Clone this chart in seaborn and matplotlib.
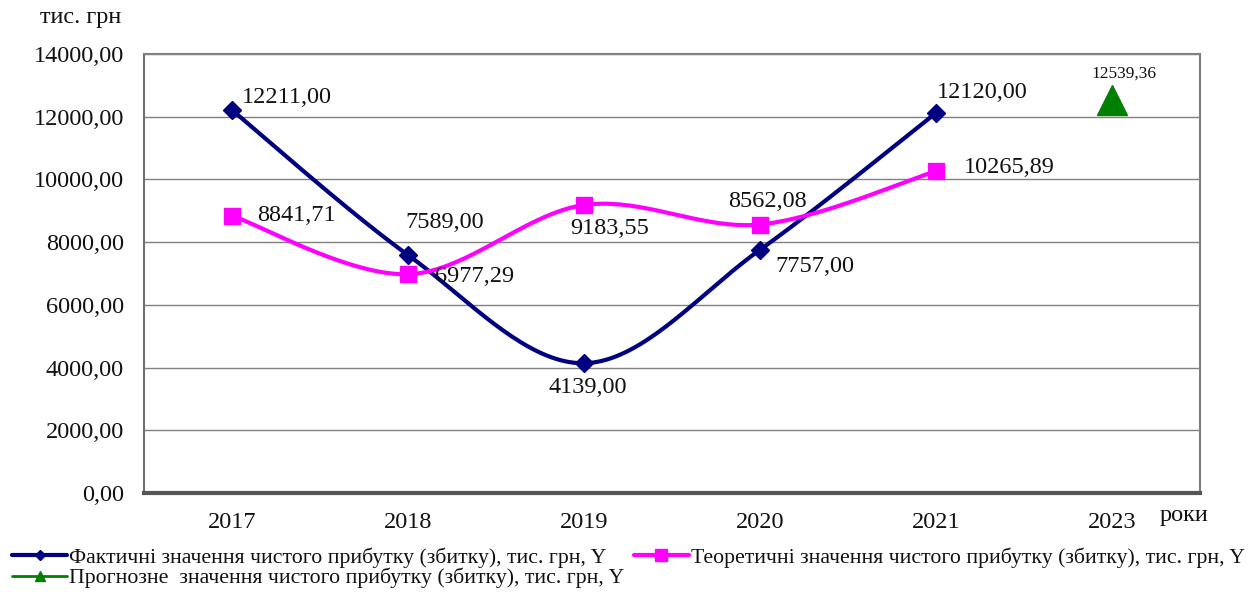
import numpy as np
import matplotlib
matplotlib.use("Agg")
import matplotlib.pyplot as plt
from matplotlib.lines import Line2D
import seaborn as sns

# --- data ---
years = ["2017", "2018", "2019", "2020", "2021", "2023"]
actual = [12211.00, 7589.00, 4139.00, 7757.00, 12120.00]
theoretical = [8841.71, 6977.29, 9183.55, 8562.08, 10265.89]
forecast = [12539.36]
yticks = [0, 2000, 4000, 6000, 8000, 10000, 12000, 14000]

label_actual = "Фактичні значення чистого прибутку (збитку), тис. грн, Y"
label_theor = "Теоретичні значення чистого прибутку (збитку), тис. грн, Y"
label_fc = "Прогнозне  значення чистого прибутку (збитку), тис. грн, Y"

NAVY = "#000080"
MAGENTA = "#FF00FF"
GREEN = "#008000"
GRID = "#808080"
TEXT = "#111111"


def smooth(xs, ys, n=40):
    """Cubic Bezier smoothing through every point (Catmull-Rom control points)."""
    pts = np.column_stack([xs, ys]).astype(float)
    out = []
    for i in range(len(pts) - 1):
        p0 = pts[i - 1] if i > 0 else pts[i]
        p1, p2 = pts[i], pts[i + 1]
        p3 = pts[i + 2] if i + 2 < len(pts) else pts[i + 1]
        c1 = p1 + (p2 - p0) / 6.0
        c2 = p2 - (p3 - p1) / 6.0
        t = np.linspace(0, 1, n)[:, None]
        seg = ((1 - t) ** 3) * p1 + 3 * ((1 - t) ** 2) * t * c1 + 3 * (1 - t) * t ** 2 * c2 + t ** 3 * p2
        out.append(seg if i == 0 else seg[1:])
    out = np.vstack(out)
    return out[:, 0], out[:, 1]


sns.set_theme(style="white")
plt.rcParams["font.family"] = ["Liberation Serif", "DejaVu Serif"]

fig = plt.figure(figsize=(12.56, 5.92), dpi=100)
ax = fig.add_axes([144 / 1256, 1 - 493 / 592, (1200 - 144) / 1256, (493 - 54) / 592])

x_all = np.arange(len(years))
x_act = x_all[:len(actual)]

# smoothed lines
sx, sy = smooth(x_act, actual)
sns.lineplot(x=sx, y=sy, sort=False, estimator=None, color=NAVY, linewidth=3, ax=ax, zorder=3)
tx, ty = smooth(x_act, theoretical)
sns.lineplot(x=tx, y=ty, sort=False, estimator=None, color=MAGENTA, linewidth=3, ax=ax, zorder=3)

# markers
ax.plot(x_act, actual, linestyle="none", marker="D", markersize=9, color=NAVY, zorder=5)
ax.plot(x_act, theoretical, linestyle="none", marker="s", markersize=12, color=MAGENTA, zorder=4)
ax.plot([x_all[-1]], forecast, linestyle="none", marker="^", markersize=22, color=GREEN, zorder=5)


def fmt(v):
    return f"{v:.2f}".replace(".", ",")


fs = 17.5
act_offsets = [(10, 13, "left"), (-3, 33, "left"), (4, -24, "center"), (15, -17, "left"), (1, 20, "left")]
for xi, v, (dx, dy, ha) in zip(x_act, actual, act_offsets):
    ax.annotate(fmt(v), (xi, v), xytext=(dx, dy), textcoords="offset pixels",
                ha=ha, va="center", fontsize=fs, color=TEXT, zorder=6)

th_offsets = [(25, 0, "left"), (27, -2, "left"), (26, -23, "center"), (7, 23, "center"), (28, 4, "left")]
for xi, v, (dx, dy, ha) in zip(x_act, theoretical, th_offsets):
    ax.annotate(fmt(v), (xi, v), xytext=(dx, dy), textcoords="offset pixels",
                ha=ha, va="center", fontsize=fs, color=TEXT, zorder=6)

ax.annotate(fmt(forecast[0]), (x_all[-1], forecast[0]), xytext=(12, 26), textcoords="offset pixels",
            ha="center", va="center", fontsize=12.5, color=TEXT, zorder=6)

# axes styling
ax.set_xlim(-0.5, len(years) - 0.5)
ax.set_ylim(0, 14000)
ax.set_yticks(yticks)
ax.set_yticklabels([fmt(v) for v in yticks], fontsize=fs)
ax.set_xticks(x_all)
ax.set_xticklabels(years, fontsize=fs)
ax.set_xticks(np.arange(0.5, len(years) - 1, 1), minor=True)
ax.tick_params(axis="x", which="major", length=0, pad=14)
ax.tick_params(axis="x", which="minor", length=5, width=1, color=GRID, direction="out")
ax.tick_params(axis="y", which="major", length=6, width=1, color=GRID, direction="out", pad=8.5)
for lbl in ax.get_xticklabels() + ax.get_yticklabels():
    lbl.set_color(TEXT)
ax.yaxis.grid(True, color=GRID, linewidth=1)
ax.xaxis.grid(False)
ax.set_axisbelow(True)
for side in ["top", "right"]:
    ax.spines[side].set_color(GRID)
    ax.spines[side].set_linewidth(1.5)
ax.spines["left"].set_color("#707070")
ax.spines["left"].set_linewidth(1.5)
ax.spines["bottom"].set_color("#555555")
ax.spines["bottom"].set_linewidth(3)

fig.text(40 / 1256, 1 - 18 / 592, "тис. грн", fontsize=fs, ha="left", va="center", color=TEXT)
fig.text(1160 / 1256, 1 - 515 / 592, "роки", fontsize=fs, ha="left", va="center", color=TEXT)

# legend
handles = [
    Line2D([], [], color=NAVY, linewidth=3, marker="D", markersize=5),
    Line2D([], [], color=GREEN, linewidth=2, marker="^", markersize=7),
    Line2D([], [], color=MAGENTA, linewidth=3, marker="s", markersize=8),
]
labels = [label_actual, label_fc, label_theor]
leg = fig.legend(handles, labels, loc="upper left", bbox_to_anchor=(8 / 1256, 1 - 543 / 592), ncol=2,
                 frameon=False, fontsize=15.7, handlelength=2.5, handletextpad=0.1,
                 columnspacing=0.45, labelspacing=0.0, borderpad=0.2, borderaxespad=0.0)
for t in leg.get_texts():
    t.set_color(TEXT)

fig.savefig("out.png", dpi=100, facecolor="white")
